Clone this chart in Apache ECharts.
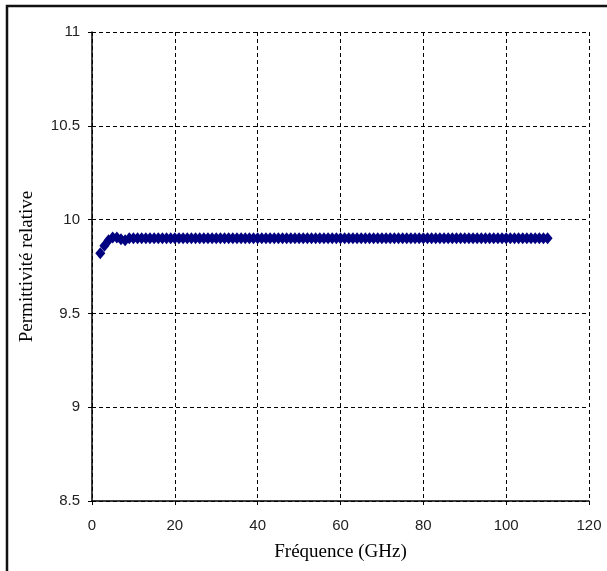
<!DOCTYPE html>
<html>
<head>
<meta charset="utf-8">
<script src="https://cdn.jsdelivr.net/npm/echarts@6/dist/echarts.min.js"></script>
<style>
  html, body { margin: 0; padding: 0; background: #fff; }
  #chart { width: 607px; height: 571px; }
</style>
</head>
<body>
<div id="chart"></div>
<script>
// frequency points (GHz)
const freq = [
  2, 3, 4, 5, 6, 7, 8, 9, 10, 11, 12, 13, 14, 15, 16, 17, 18, 19, 20,
  21, 22, 23, 24, 25, 26, 27, 28, 29, 30, 31, 32, 33, 34, 35, 36, 37, 38, 39, 40,
  41, 42, 43, 44, 45, 46, 47, 48, 49, 50, 51, 52, 53, 54, 55, 56, 57, 58, 59, 60,
  61, 62, 63, 64, 65, 66, 67, 68, 69, 70, 71, 72, 73, 74, 75, 76, 77, 78, 79, 80,
  81, 82, 83, 84, 85, 86, 87, 88, 89, 90, 91, 92, 93, 94, 95, 96, 97, 98, 99, 100,
  101, 102, 103, 104, 105, 106, 107, 108, 109, 110
];
// relative permittivity
const permittivity = [
  9.82, 9.86, 9.89, 9.905, 9.905, 9.895, 9.89, 9.9, 9.9, 9.9, 9.9, 9.9, 9.9, 9.9, 9.9, 9.9, 9.9, 9.9, 9.9,
  9.9, 9.9, 9.9, 9.9, 9.9, 9.9, 9.9, 9.9, 9.9, 9.9, 9.9, 9.9, 9.9, 9.9, 9.9, 9.9, 9.9, 9.9, 9.9, 9.9,
  9.9, 9.9, 9.9, 9.9, 9.9, 9.9, 9.9, 9.9, 9.9, 9.9, 9.9, 9.9, 9.9, 9.9, 9.9, 9.9, 9.9, 9.9, 9.9, 9.9,
  9.9, 9.9, 9.9, 9.9, 9.9, 9.9, 9.9, 9.9, 9.9, 9.9, 9.9, 9.9, 9.9, 9.9, 9.9, 9.9, 9.9, 9.9, 9.9, 9.9,
  9.9, 9.9, 9.9, 9.9, 9.9, 9.9, 9.9, 9.9, 9.9, 9.9, 9.9, 9.9, 9.9, 9.9, 9.9, 9.9, 9.9, 9.9, 9.9, 9.9,
  9.9, 9.9, 9.9, 9.9, 9.9, 9.9, 9.9, 9.9, 9.9, 9.9
];

const xTitle = 'Fréquence (GHz)';
const yTitle = 'Permittivité relative';

const chart = echarts.init(document.getElementById('chart'));

const axisCommon = {
  axisLine: { show: true, lineStyle: { color: '#000', width: 1.5 } },
  axisTick: { show: true, length: 4, lineStyle: { color: '#000', width: 1 } },
  axisLabel: { color: '#222', fontFamily: 'Liberation Sans, Arial', fontSize: 15 },
  splitLine: { show: true, lineStyle: { color: '#000', type: [4, 3], width: 1 } },
  nameTextStyle: { color: '#000', fontFamily: 'Liberation Serif, Times New Roman', fontSize: 19 }
};

chart.setOption({
  animation: false,
  backgroundColor: '#fff',
  grid: { left: 92, right: 18, top: 32, bottom: 70, containLabel: false },
  graphic: [{
    type: 'rect',
    shape: { x: 7, y: 6, width: 700, height: 700 },
    style: { fill: 'none', stroke: '#111', lineWidth: 2.5 },
    silent: true
  }],
  xAxis: Object.assign({}, axisCommon, {
    type: 'value',
    min: 0, max: 120, interval: 20,
    name: xTitle,
    nameLocation: 'middle',
    nameGap: 42,
    axisLabel: Object.assign({}, axisCommon.axisLabel, { margin: 17 })
  }),
  yAxis: Object.assign({}, axisCommon, {
    type: 'value',
    min: 8.5, max: 11, interval: 0.5,
    name: yTitle,
    nameLocation: 'middle',
    nameGap: 55,
    axisLabel: Object.assign({}, axisCommon.axisLabel, { margin: 12 })
  }),
  series: [{
    type: 'line',
    data: freq.map((f, i) => [f, permittivity[i]]),
    lineStyle: { width: 0 },
    symbol: 'diamond',
    symbolSize: [10, 12],
    itemStyle: { color: '#000080' },
    showSymbol: true
  }]
});
</script>
</body>
</html>
